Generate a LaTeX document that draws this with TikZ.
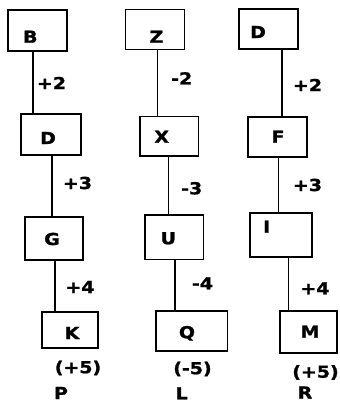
\documentclass[tikz,border=0pt]{standalone}
\usepackage{fontspec}
\usepackage{graphicx}
\setmainfont{DejaVu Sans}[BoldFeatures={FakeBold=1.2}]
\newcommand{\T}[1]{\scalebox{1.15}[1]{#1}}
\tikzset{
  box/.style={draw=black, line width=1.3pt, inner sep=0pt, fill=none},
  txt/.style={inner sep=0pt, font=\fontsize{16.5}{19}\selectfont\bfseries},
  conn/.style={draw=black, line width=1.3pt}
}
\begin{document}
\begin{tikzpicture}[x=1pt,y=-1pt]
\useasboundingbox[fill=white] (0,0) rectangle (340,402);
% column 1
\node[box, minimum width=59pt, minimum height=41pt] (B) at (37.5,30.5) {};
\node[box, minimum width=60pt, minimum height=41pt] (D1) at (51,134.5) {};
\node[box, minimum width=58pt, minimum height=43pt] (G) at (54,238.5) {};
\node[box, minimum width=56pt, minimum height=36pt] (K) at (70,330) {};
\node[txt] (tB) at (30.3,36.7) {\T{B}};
\node[txt] (tD1) at (48,138) {\T{D}};
\node[txt] (tG) at (52,239) {\T{G}};
\node[txt] (tK) at (72,333) {\T{K}};
% column 2
\node[box, minimum width=58.6pt, minimum height=40pt] (Z) at (155,29.3) {};
\node[box, minimum width=58.3pt, minimum height=39.3pt] (X) at (169.2,136.3) {};
\node[box, minimum width=58.3pt, minimum height=44.3pt] (U) at (174.2,237.2) {};
\node[box, minimum width=71.3pt, minimum height=40pt] (Q) at (191.7,331) {};
\node[txt] (tZ) at (156.5,36.7) {\T{Z}};
\node[txt] (tX) at (161.7,136.7) {\T{X}};
\node[txt] (tU) at (168.3,238.3) {\T{U}};
\node[txt] (tQ) at (187,333.3) {\T{Q}};
% column 3
\node[box, minimum width=59pt, minimum height=40pt] (D3) at (268.5,29) {};
\node[box, minimum width=59pt, minimum height=40pt] (F) at (277.5,137) {};
\node[box, minimum width=62pt, minimum height=44pt] (I) at (281,235) {};
\node[box, minimum width=57pt, minimum height=42pt] (M) at (308.5,332) {};
\node[txt] (tD3) at (258,32) {\T{D}};
\node[txt] (tF) at (278,136.7) {\T{F}};
\node[txt] (tI) at (266.7,226.7) {\T{I}};
\node[txt] (tM) at (310,331.7) {\T{M}};
% connector x positions
\coordinate (c1) at (33,0);
\coordinate (c2) at (52,0);
\coordinate (c3) at (55,0);
\coordinate (c4) at (157.3,0);
\coordinate (c5) at (168.3,0);
\coordinate (c6) at (175,0);
\coordinate (c7) at (282,0);
\coordinate (c8) at (278.3,0);
\coordinate (c9) at (288.3,0);
\draw[conn] (B.south -| c1) -- (D1.north -| c1);
\draw[conn] (D1.south -| c2) -- (G.north -| c2);
\draw[conn] (G.south -| c3) -- (K.north -| c3);
\draw[conn] (Z.south -| c4) -- (X.north -| c4);
\draw[conn] (X.south -| c5) -- (U.north -| c5);
\draw[conn] (U.south -| c6) -- (Q.north -| c6);
\draw[conn] (D3.south -| c7) -- (F.north -| c7);
\draw[conn] (F.south -| c8) -- (I.north -| c8);
\draw[conn] (I.south -| c9) -- (M.north -| c9);
% labels column 1
\node[txt] (l1a) at (51.5,83) {\T{+2}};
\node[txt] (l1b) at (77.5,183) {\T{+3}};
\node[txt] (l1c) at (80,287) {\T{+4}};
\node[txt] (l1d) at (78,368) {\T{(+5)}};
\node[txt] (l1e) at (61,393) {\T{P}};
% labels column 2
\node[txt] (l2a) at (181.7,78.3) {\T{-2}};
\node[txt] (l2b) at (191.7,188.3) {\T{-3}};
\node[txt] (l2c) at (202.5,283.3) {\T{-4}};
\node[txt] (l2d) at (192.5,369) {\T{(-5)}};
\node[txt] (l2e) at (181.7,393.3) {\T{L}};
% labels column 3
\node[txt] (l3a) at (307.5,85) {\T{+2}};
\node[txt] (l3b) at (307.5,185) {\T{+3}};
\node[txt] (l3c) at (315,288.3) {\T{+4}};
\node[txt] (l3d) at (315.5,372.5) {\T{(+5)}};
\node[txt] (l3e) at (305,392.5) {\T{R}};
\end{tikzpicture}
\end{document}
